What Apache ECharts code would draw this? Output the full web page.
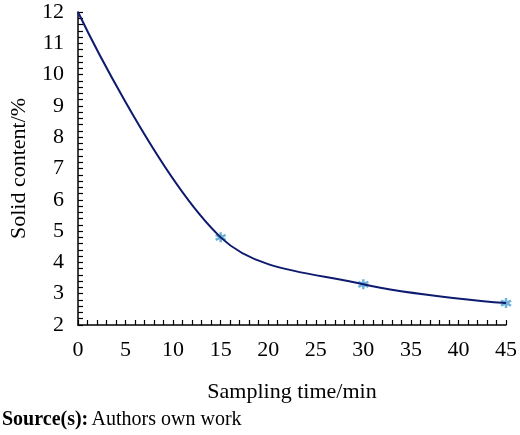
<!DOCTYPE html>
<html><head><meta charset="utf-8">
<script src="https://cdn.jsdelivr.net/npm/echarts@6/dist/echarts.min.js"></script>
<style>body{margin:0;background:#fff}#c{width:520px;height:435px}</style></head>
<body><div id="c"></div>
<script>
const times = [0, 15, 30, 45];
const solid = [12, 4.8, 3.3, 2.7];
const markerTimes = [15, 30, 45];
const markerSolid = [4.8, 3.3, 2.7];
const font = 'Liberation Serif';
const star = 'path://M0,-10L0,10M-8.7,-5L8.7,5M-8.7,5L8.7,-5';
const axisCommon = {
  axisLine:{show:true,lineStyle:{color:'#000',width:1.5}},
  axisTick:{show:true,inside:true,length:5,lineStyle:{color:'#000',width:1.2}},
  minorTick:{show:true,splitNumber:5,length:5,lineStyle:{color:'#000',width:1.2}},
  splitLine:{show:false}
};
const chart = echarts.init(document.getElementById('c'));
chart.setOption({
  animation:false,
  grid:{left:70,right:14,top:12,bottom:110},
  xAxis:Object.assign({type:'value',min:0,max:45,interval:5,name:'Sampling time/min',nameLocation:'middle',nameGap:56,
    nameTextStyle:{color:'#000',fontFamily:font,fontSize:22}},axisCommon,
    {axisLabel:{color:'#000',fontFamily:font,fontSize:22,margin:14}}),
  yAxis:Object.assign({type:'value',min:2,max:12,interval:1,name:'Solid content/%',nameLocation:'middle',nameGap:48,
    nameTextStyle:{color:'#000',fontFamily:font,fontSize:22}},axisCommon,
    {axisLabel:{color:'#000',fontFamily:font,fontSize:22,margin:14}}),
  graphic:[{type:'text',left:2,top:410,style:{rich:{b:{fontWeight:'bold',fontFamily:font,fontSize:20,fill:'#000'},n:{fontFamily:font,fontSize:20,fill:'#000'}},
    text:'{b|Source(s):} {n|Authors own work}'}}],
  series:[
    {type:'line',data:times.map((t,i)=>[t,solid[i]]),smooth:0.35,symbol:'none',lineStyle:{color:'#0d1a6e',width:2}},
    {type:'scatter',data:markerTimes.map((t,i)=>[t,markerSolid[i]]),symbol:star,symbolSize:10,
     itemStyle:{color:'none',borderColor:'#4a9fd0',borderWidth:2.5}}
  ]
});
</script></body></html>
